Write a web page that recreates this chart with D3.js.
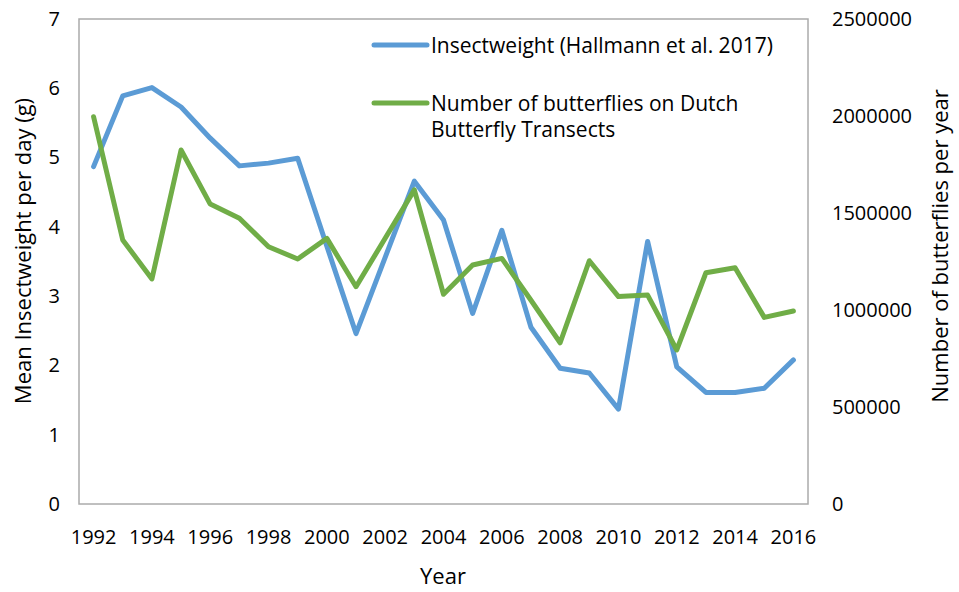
<!DOCTYPE html>
<html>
<head>
<meta charset="utf-8">
<script src="https://cdn.jsdelivr.net/npm/d3@7"></script>
<style>
  html, body { margin: 0; padding: 0; background: #fff; }
  svg { display: block; }
  text { font-family: "Open Sans", sans-serif; fill: #000; }
</style>
</head>
<body>
<svg id="chart" width="959" height="592"></svg>
<script>
const years = [1992,1993,1994,1995,1996,1997,1998,1999,2000,2001,2002,2003,2004,2005,2006,2007,2008,2009,2010,2011,2012,2013,2014,2015,2016];
const insectWeight = [4.87,5.89,6.01,5.73,5.28,4.88,4.92,4.99,3.72,2.46,3.56,4.66,4.10,2.75,3.95,2.55,1.96,1.89,1.37,3.79,1.98,1.61,1.61,1.67,2.08];
const butterflies = [1996000,1361000,1160000,1825000,1546000,1473000,1326000,1263000,1369000,1120000,1370000,1619000,1081000,1232000,1266000,1050000,831000,1254000,1069000,1077000,794000,1192000,1218000,962000,995000];
const xTickLabels = [1992,1994,1996,1998,2000,2002,2004,2006,2008,2010,2012,2014,2016];
const leftTicks = [0,1,2,3,4,5,6,7];
const rightTicks = [0,500000,1000000,1500000,2000000,2500000];
const seriesNames = ["Insectweight (Hallmann et al. 2017)", ["Number of butterflies on Dutch", "Butterfly Transects"]];
const colors = ["#5B9BD5", "#70AD47"];

const svg = d3.select("#chart");
const plot = {left: 79, right: 808, top: 19, bottom: 504};

const x = d3.scaleBand().domain(years).range([plot.left, plot.right]);
const xc = d => x(d) + x.bandwidth() / 2;
const yL = d3.scaleLinear().domain([0, 7]).range([plot.bottom, plot.top]);
const yR = d3.scaleLinear().domain([0, 2500000]).range([plot.bottom, plot.top]);

// plot border
svg.append("rect")
  .attr("x", plot.left).attr("y", plot.top)
  .attr("width", plot.right - plot.left).attr("height", plot.bottom - plot.top)
  .attr("fill", "none").attr("stroke", "#ABABAB").attr("stroke-width", 1.5);

// left axis
const gL = svg.append("g").attr("transform", `translate(${plot.left - 19},0)`)
  .call(d3.axisLeft(yL).tickValues(leftTicks).tickSize(0).tickPadding(0).tickFormat(d3.format("d")));
gL.select(".domain").remove();
gL.selectAll("text").style("font-size", "20px").style("font-family", "'Open Sans', sans-serif").attr("fill", "#000");

// right axis
const gR = svg.append("g").attr("transform", `translate(${plot.right + 24},0)`)
  .call(d3.axisRight(yR).tickValues(rightTicks).tickSize(0).tickPadding(0).tickFormat(d3.format("d")));
gR.select(".domain").remove();
gR.selectAll("text").style("font-size", "20px").style("font-family", "'Open Sans', sans-serif").attr("fill", "#000");

// bottom axis
const gB = svg.append("g").attr("transform", `translate(0,${plot.bottom + 26})`)
  .call(d3.axisBottom(x).tickValues(xTickLabels).tickSize(0).tickPadding(0));
gB.select(".domain").remove();
gB.selectAll("text").style("font-size", "20px").style("font-family", "'Open Sans', sans-serif").attr("fill", "#000").attr("dy", "0.71em");

// axis titles
svg.append("text").attr("transform", `translate(31,251) rotate(-90)`)
  .attr("text-anchor", "middle").style("font-size", "22px").text("Mean Insectweight per day (g)");
svg.append("text").attr("transform", `translate(948,246) rotate(-90)`)
  .attr("text-anchor", "middle").style("font-size", "22px").text("Number of butterflies per year");
svg.append("text").attr("x", 443).attr("y", 584)
  .attr("text-anchor", "middle").style("font-size", "22px").text("Year");

// lines
const lineL = d3.line().x((d, i) => xc(years[i])).y(d => yL(d));
const lineR = d3.line().x((d, i) => xc(years[i])).y(d => yR(d));
svg.append("path").datum(insectWeight).attr("d", lineL)
  .attr("fill", "none").attr("stroke", colors[0]).attr("stroke-width", 5)
  .attr("stroke-linejoin", "round").attr("stroke-linecap", "round");
svg.append("path").datum(butterflies).attr("d", lineR)
  .attr("fill", "none").attr("stroke", colors[1]).attr("stroke-width", 5)
  .attr("stroke-linejoin", "round").attr("stroke-linecap", "round");

// legend
const leg = svg.append("g");
leg.append("line").attr("x1", 374).attr("x2", 427).attr("y1", 45).attr("y2", 45)
  .attr("stroke", colors[0]).attr("stroke-width", 5).attr("stroke-linecap", "round");
leg.append("text").attr("x", 431).attr("y", 53).style("font-size", "21px").text(seriesNames[0]);
leg.append("line").attr("x1", 374).attr("x2", 427).attr("y1", 103).attr("y2", 103)
  .attr("stroke", colors[1]).attr("stroke-width", 5).attr("stroke-linecap", "round");
seriesNames[1].forEach((t, i) => {
  leg.append("text").attr("x", 431).attr("y", 111 + i * 26).style("font-size", "21px").text(t);
});
</script>
</body>
</html>
